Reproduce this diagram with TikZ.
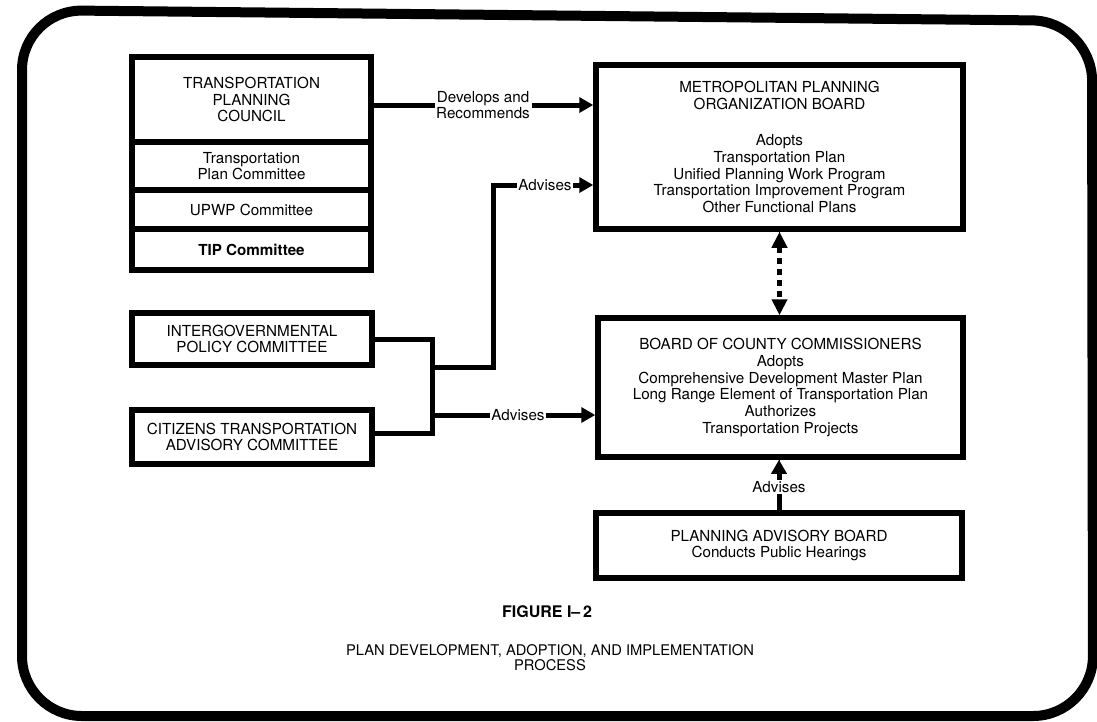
\documentclass[tikz,border=0pt]{standalone}
\usepackage{fontspec}
\setmainfont{TeX Gyre Heros}
\usetikzlibrary{arrows.meta}
\begin{document}
\begin{tikzpicture}[x=1pt,y=-1pt,
  box/.style={draw, line width=5.5pt, inner sep=0pt, align=center, font=\fontsize{15.2}{16.7}\selectfont},
  conn/.style={line width=5pt},
  arr/.style={conn, -{Triangle[length=14pt,width=15pt]}},
  lbl/.style={inner sep=1.5pt, font=\fontsize{15.2}{16.7}\selectfont, align=center},
  tick/.style={line width=0.8pt}]
\useasboundingbox (0,0) rectangle (1097,721);
% outer frame
\draw[line width=10pt, rounded corners=60pt] (22,400) -- (22,10) -- (1092,21) -- (1093,716) -- (22,716) -- cycle;
% TPC stack
\node[box, minimum width=239pt, minimum height=85pt] (tpc) at (251.5,99.5) {TRANSPORTATION\\PLANNING\\COUNCIL};
\node[box, minimum width=239pt, minimum height=48pt] (tpcc) at (251.5,166) {Transportation\\Plan Committee};
\node[box, minimum width=239pt, minimum height=39pt] (upwp) at (251.5,209.5) {UPWP Committee};
\node[box, minimum width=239pt, minimum height=41pt] (tip) at (251.5,249.5) {\bfseries TIP Committee};
% right boxes
\node[box, minimum width=367pt, minimum height=164pt] (mpo) at (779.5,147) {METROPOLITAN PLANNING\\ORGANIZATION BOARD\\[20pt]Adopts\\Transportation Plan\\Unified Planning Work Program\\Transportation Improvement Program\\Other Functional Plans};
\node[box, minimum width=365pt, minimum height=139pt] (bcc) at (780.5,387.5) {BOARD OF COUNTY COMMISSIONERS\\Adopts\\Comprehensive Development Master Plan\\Long Range Element of Transportation Plan\\Authorizes\\Transportation Projects};
\node[box, minimum width=366pt, minimum height=65pt] (pab) at (779,545.5) {PLANNING ADVISORY BOARD\\Conducts Public Hearings};
% left boxes
\node[box, minimum width=240pt, minimum height=52pt] (ipc) at (252,339) {INTERGOVERNMENTAL\\POLICY COMMITTEE};
\node[box, minimum width=240pt, minimum height=54pt] (cta) at (252,437) {CITIZENS TRANSPORTATION\\ADVISORY COMMITTEE};
% labels
\node[lbl] (dr) at (483,105) {Develops and\\Recommends};
\node[lbl] (a1) at (545,185) {Advises};
\node[lbl] (a2) at (518,415) {Advises};
\node[lbl] (a3) at (779,487) {Advises};
% junction coordinates
\coordinate (jb) at (432,433);
\coordinate (ja) at (432,415);
\coordinate (j) at (432,367);
\coordinate (k) at (493,367);
% connectors
\draw[conn] (tpc.east |- dr) -- (dr.west);
\draw[arr] (dr.east) -- (dr -| mpo.west);
\draw[conn] (ipc.east) -| (jb) -- (cta.east |- jb);
\draw[conn] (j) -- (k) |- (a1.west);
\draw[arr] (a1.east) -- (a1 -| mpo.west);
\draw[conn] (ja) -- (a2.west);
\draw[arr] (a2.east) -- (a2 -| bcc.west);
\draw[conn, dash pattern=on 6pt off 5pt, {Triangle[length=16pt,width=15pt]}-{Triangle[length=16pt,width=15pt]}] (mpo.south) -- (mpo.south |- bcc.north);
\draw[conn] (pab.north) -- (a3.south);
\draw[arr] (a3.north) -- (a3 |- bcc.south);
\draw[tick] ([yshift=-10pt]mpo.south) -- (mpo.south);
\draw[tick] ([yshift=-14pt]a3 |- bcc.south) -- (a3 |- bcc.south);
% caption
\node[font=\bfseries\fontsize{16}{18}\selectfont] (fig) at (547,612) {FIGURE I--\,2};
\node[font=\fontsize{14.7}{15.5}\selectfont, align=center] (cap) at (550,657.5) {PLAN DEVELOPMENT, ADOPTION, AND IMPLEMENTATION\\PROCESS};
\end{tikzpicture}
\end{document}
